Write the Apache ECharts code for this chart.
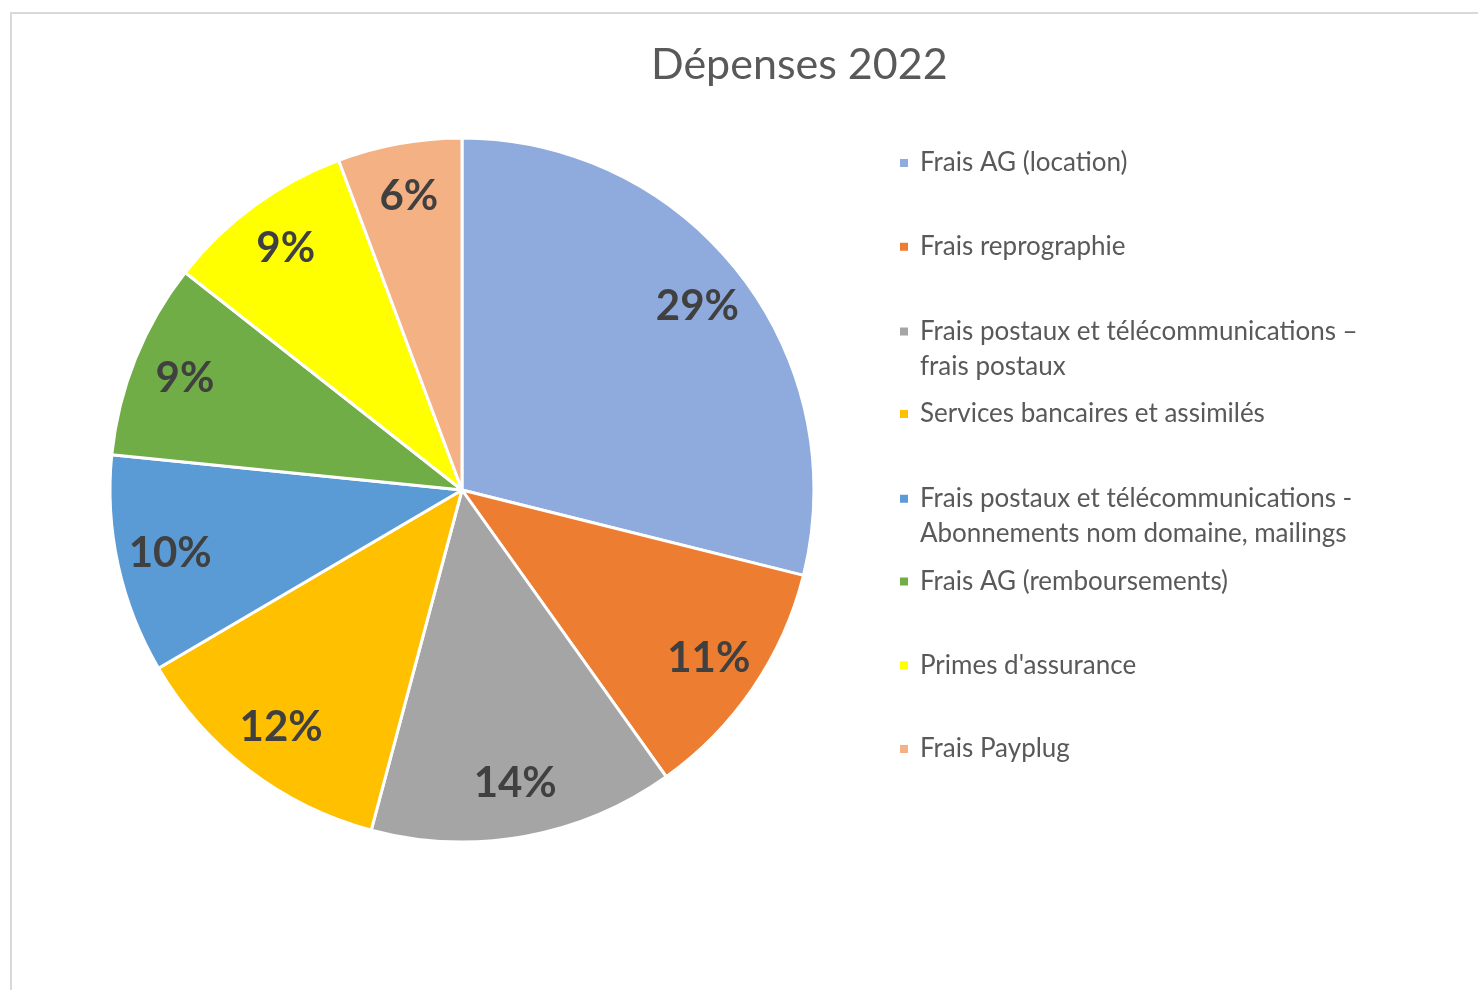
<!DOCTYPE html>
<html><head><meta charset="utf-8">
<script src="https://cdn.jsdelivr.net/npm/echarts@6/dist/echarts.min.js"></script>
<style>html,body{margin:0;padding:0;background:#fff}#c{width:1478px;height:990px}</style>
</head><body><div id="c"></div>
<script>
const titleText = 'Dépenses 2022';
const categories = [
  'Frais AG (location)',
  'Frais reprographie',
  'Frais postaux et télécommunications – frais postaux',
  'Services bancaires et assimilés',
  'Frais postaux et télécommunications - Abonnements nom domaine, mailings',
  'Frais AG (remboursements)',
  "Primes d'assurance",
  'Frais Payplug'
];
const legendLabels = [
  'Frais AG (location)',
  'Frais reprographie',
  'Frais postaux et télécommunications –\nfrais postaux',
  'Services bancaires et assimilés',
  'Frais postaux et télécommunications -\nAbonnements nom domaine, mailings',
  'Frais AG (remboursements)',
  "Primes d'assurance",
  'Frais Payplug'
];
const values = [28.9, 11.25, 14.0, 12.4, 10.05, 9.0, 8.7, 5.7];

const colors = ['#8FAADC', '#ED7D31', '#A5A5A5', '#FFC000', '#5B9BD5', '#70AD47', '#FFFF00', '#F4B183'];
const FONT = 'Lato';
const LINE_H = 35;
const center = [462, 490];
const R = 352;

const data = categories.map((n, i) => ({ name: n, value: values[i], itemStyle: { color: colors[i] } }));

const legends = categories.map((n, i) => {
  const lines = legendLabels[i].split('\n').length;
  const firstCenter = 163 + i * 83.7;
  const leg = {
    orient: 'vertical',
    left: 898,
    top: firstCenter - LINE_H / 2,
    padding: 0,
    itemGap: 0,
    selectedMode: false,
    data: [n],
    itemWidth: 10,
    itemHeight: 10,
    icon: 'rect',
    formatter: (name) => legendLabels[categories.indexOf(name)],
    textStyle: { fontFamily: FONT, fontSize: 26, color: '#595959', lineHeight: LINE_H, padding: [0, 0, 0, 6] }
  };
  if (lines > 1) {
    const h = lines * LINE_H;
    leg.itemHeight = h;
    const c = LINE_H / 2;
    leg.icon = 'path://M0 0H0.05V0.05H0Z M0 ' + (c - 5) + 'H10V' + (c + 5) + 'H0Z M0 ' + (h - 0.05) + 'H0.05V' + h + 'H0Z';
  }
  return leg;
});

const chart = echarts.init(document.getElementById('c'), null, { renderer: 'canvas' });
chart.setOption({
  animation: false,
  backgroundColor: '#fff',
  graphic: [{
    type: 'rect', silent: true, z: -10,
    shape: { x: 11, y: 13, width: 1600, height: 1100 },
    style: { fill: 'none', stroke: '#D9D9D9', lineWidth: 2 }
  }],
  title: {
    text: titleText,
    left: 651, top: 44,
    padding: 0,
    textStyle: { fontFamily: FONT, fontSize: 43, fontWeight: 'normal', color: '#595959' }
  },
  legend: legends,
  series: [{
    type: 'pie',
    center: center,
    radius: [0, R],
    startAngle: 90,
    clockwise: true,
    avoidLabelOverlap: false,
    label: { show: false },
    labelLine: { show: false },
    itemStyle: { borderColor: '#fff', borderWidth: 3 },
    emphasis: { disabled: true },
    data: data
  }, {
    type: 'pie',
    center: center,
    radius: [R * 0.68, R],
    startAngle: 90,
    clockwise: true,
    silent: true,
    percentPrecision: 0,
    avoidLabelOverlap: false,
    itemStyle: { color: 'rgba(0,0,0,0)', borderWidth: 0 },
    labelLine: { show: false },
    label: {
      show: true, position: 'inside', formatter: '{d}%',
      fontFamily: FONT, fontSize: 42, fontWeight: 'bold', color: '#404040'
    },
    emphasis: { disabled: true },
    data: categories.map((n, i) => ({ name: n, value: values[i] }))
  }]
});
</script></body></html>
